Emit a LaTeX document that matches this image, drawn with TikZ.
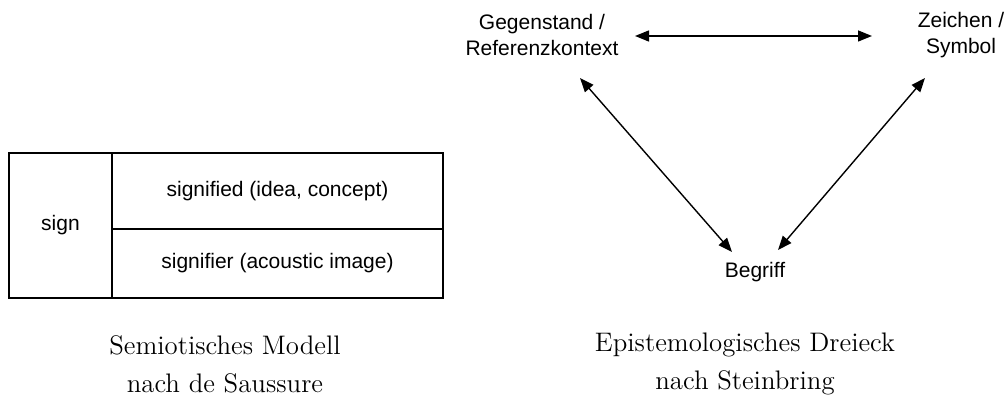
\documentclass[tikz,border=0pt]{standalone}
\usepackage{fontspec}
\setsansfont{Liberation Sans}
\usepackage{tikz}
\usetikzlibrary{arrows.meta,positioning}

\begin{document}
\begin{tikzpicture}[x=0.5pt, y=-0.5pt,
  lbl/.style={font=\sffamily\fontsize{10.5}{13}\selectfont, align=center, inner sep=0pt},
  cell/.style={lbl, draw, line width=0.9pt},
  captxt/.style={font=\fontsize{13.4}{19}\selectfont, align=center, inner sep=0pt},
  arr/.style={{Triangle[length=7pt,width=5.5pt]}-{Triangle[length=7pt,width=5.5pt]}, line width=0.7pt}]
  \useasboundingbox (0,0) rectangle (1006,399);

  \node[cell, minimum width=51.5pt, minimum height=72.5pt] (sign) at (60.5,225.5) {sign};
  \node[cell, minimum width=165.5pt, minimum height=38pt] (sfd) at (277.5,191) {signified (idea, concept)};
  \node[cell, minimum width=165.5pt, minimum height=34.5pt] (sfr) at (277.5,263.5) {signifier (acoustic image)};

  \node[captxt] (capl) at (225,364) {Semiotisches Modell\\nach de Saussure};

  \node[lbl] (gegen) at (542,35) {Gegenstand /\\Referenzkontext};
  \node[lbl] (zeichen) at (961,35) {Zeichen /\\Symbol};
  \node[lbl] (begriff) at (755,272) {Begriff};

  \draw[arr] ([shift={(93,1)}]gegen.center) -- ([shift={(-89,1)}]zeichen.center);
  \draw[arr] ([shift={(38,43)}]gegen.center) -- ([shift={(-23,-20)}]begriff.center);
  \draw[arr] ([shift={(-36,43)}]zeichen.center) -- ([shift={(23,-22)}]begriff.center);

  \node[captxt] (capr) at (745,364) {Epistemologisches Dreieck\\nach Steinbring};
\end{tikzpicture}
\end{document}
